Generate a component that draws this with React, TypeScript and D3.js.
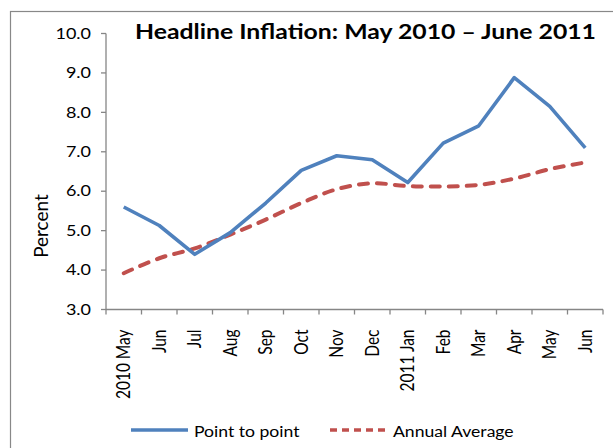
import React from "react";
import * as d3 from "d3";

const categories = ["2010 May", "Jun", "Jul", "Aug", "Sep", "Oct", "Nov", "Dec", "2011 Jan", "Feb", "Mar", "Apr", "May", "Jun"];
const pointToPoint = [5.6, 5.13, 4.4, 4.95, 5.7, 6.53, 6.9, 6.8, 6.22, 7.22, 7.66, 8.88, 8.15, 7.1];
const annualAverage = [3.92, 4.3, 4.55, 4.9, 5.28, 5.7, 6.05, 6.2, 6.13, 6.12, 6.16, 6.32, 6.56, 6.73];
const yTicks = [3, 4, 5, 6, 7, 8, 9, 10];
const seriesNames = ["Point to point", "Annual Average"];
const title = "Headline Inflation: May 2010 \u2013 June 2011";

const W = 613;
const H = 448;
const left = 106;
const right = 603;
const top = 33.5;
const bottom = 309.5;
const font = "Lato, 'Open Sans', sans-serif";
const axisColor = "#868686";
const blue = "#4F81BD";
const red = "#C0504D";

type TProps = {
  x: number;
  y: number;
  sx?: number;
  rot?: number;
  size: number;
  anchor?: string;
  weight?: string;
  dy?: string;
  children: React.ReactNode;
};

function T({ x, y, sx = 1, rot = 0, size, anchor = "start", weight = "normal", dy, children }: TProps) {
  return (
    <text
      transform={`translate(${x},${y}) scale(${sx},1)${rot ? ` rotate(${rot})` : ""}`}
      textAnchor={anchor}
      fontFamily={font}
      fontSize={size}
      fontWeight={weight}
      dy={dy}
      fill="#000"
    >
      {children}
    </text>
  );
}

export default function App() {
  const x = d3.scaleBand<string>().domain(categories.map((c, i) => String(i))).range([left, right]).paddingInner(0).paddingOuter(0);
  const y = d3.scaleLinear().domain([3, 10]).range([bottom, top]);
  const cx = (i: number) => (x(String(i)) as number) + x.bandwidth() / 2;

  const lineBlue = d3.line<number>().x((d, i) => cx(i)).y((d) => y(d)).curve(d3.curveLinear);
  const lineRed = d3.line<number>().x((d, i) => cx(i)).y((d) => y(d)).curve(d3.curveCatmullRom.alpha(0.5));

  const boundaries = d3.range(categories.length + 1).map((i) => left + i * x.bandwidth());

  return (
    <svg width={W} height={H} style={{ position: "absolute", left: 0, top: 0, background: "#fff" }}>
      <rect x={0} y={0} width={W} height={H} fill="#fff" />
      <rect x={10.5} y={11.5} width={640} height={480} fill="none" stroke="#888" strokeWidth={1.2} />
      <T x={135} y={38.5} sx={1.18} size={21} weight="bold">{title}</T>
      {/* y axis */}
      <line x1={left} x2={left} y1={top} y2={bottom} stroke={axisColor} strokeWidth={1.3} />
      {yTicks.map((t) => (
        <g key={t}>
          <line x1={left - 5} x2={left} y1={y(t)} y2={y(t)} stroke={axisColor} strokeWidth={1.3} />
          <T x={91} y={y(t)} sx={1.2} size={15} anchor="end" dy="0.35em">
            {d3.format(".1f")(t)}
          </T>
        </g>
      ))}
      <T x={48} y={226} sx={1} rot={-90} size={19} anchor="middle">Percent</T>
      {/* x axis */}
      <line x1={left} x2={right} y1={bottom} y2={bottom} stroke={axisColor} strokeWidth={1.3} />
      {boundaries.map((b, i) => (
        <line key={i} x1={b} x2={b} y1={bottom} y2={bottom + 5} stroke={axisColor} strokeWidth={1.3} />
      ))}
      {categories.map((c, i) => (
        <T key={i} x={cx(i)} y={bottom + 20} sx={1.2} rot={-90} size={15.5} anchor="end" dy="0.35em">
          {c}
        </T>
      ))}
      {/* series */}
      <path d={lineRed(annualAverage) || ""} fill="none" stroke={red} strokeWidth={4} strokeDasharray="9,9" strokeLinecap="round" />
      <path d={lineBlue(pointToPoint) || ""} fill="none" stroke={blue} strokeWidth={3.6} strokeLinejoin="round" />
      {/* legend */}
      <line x1={131} x2={188} y1={430} y2={430} stroke={blue} strokeWidth={3.6} />
      <T x={194} y={436.5} sx={1.1} size={16}>{seriesNames[0]}</T>
      <line x1={330} x2={387} y1={430} y2={430} stroke={red} strokeWidth={3.6} strokeDasharray="7,5" />
      <T x={393} y={436.5} sx={1.1} size={16}>{seriesNames[1]}</T>
    </svg>
  );
}
